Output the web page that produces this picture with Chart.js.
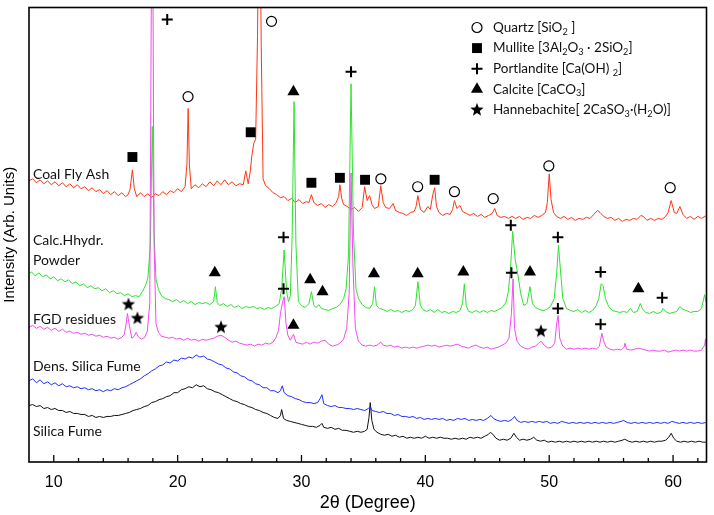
<!DOCTYPE html>
<html>
<head>
<meta charset="utf-8">
<script src="https://cdn.jsdelivr.net/npm/chart.js@4.4.0/dist/chart.umd.min.js"></script>
<style>
html,body{margin:0;padding:0;background:#fff;}
#wrap{width:714px;height:515px;position:relative;}
</style>
</head>
<body>
<div id="wrap"><canvas id="c"></canvas></div>
<script>
// ---------------- DATA (2θ in degrees, intensity in arbitrary units) ----------------
const coalFlyAsh = [[8.0,284],[8.3,286],[8.6,282],[8.9,285],[9.2,281],[9.5,284],[9.8,280],[10.1,283],[10.4,279],[10.7,282],[11.0,278],[11.3,281],[11.6,277],[11.9,280],[12.2,276],[12.5,278],[12.8,274],[13.1,277],[13.4,273],[13.7,275],[14.0,271],[14.3,274],[14.6,270],[14.9,273],[15.2,269],[15.5,272],[15.8,268],[16.0,270],[16.15,275],[16.35,295],[16.5,276],[16.7,268],[17.0,272],[17.3,268],[17.6,271],[17.9,267],[18.2,271],[18.5,269],[18.8,273],[19.1,270],[19.4,274],[19.7,272],[20.0,276],[20.3,273],[20.6,278],[20.75,300],[20.85,357],[20.95,300],[21.1,276],[21.4,280],[21.7,277],[22.0,281],[22.3,278],[22.6,283],[22.9,279],[23.2,284],[23.5,280],[23.8,285],[24.1,280],[24.4,283],[24.7,279],[25.0,281],[25.3,280],[25.5,294],[25.7,281],[25.85,292],[26.0,310],[26.15,322],[26.3,326],[26.45,430],[26.6,640],[26.75,420],[26.9,286],[27.1,279],[27.4,276],[27.7,272],[28.0,270],[28.3,267],[28.6,268],[28.9,264],[29.2,266],[29.5,262],[29.8,265],[30.1,261],[30.4,263],[30.6,262],[30.8,270],[31.0,262],[31.3,259],[31.6,261],[31.9,257],[32.2,260],[32.5,258],[32.8,262],[33.0,268],[33.1,280],[33.25,266],[33.4,260],[33.7,258],[34.0,255],[34.3,257],[34.6,253],[34.9,257],[35.1,278],[35.3,264],[35.5,269],[35.7,260],[35.9,256],[36.2,258],[36.4,279],[36.6,262],[36.8,257],[37.1,256],[37.4,261],[37.6,254],[37.9,252],[38.2,251],[38.5,249],[38.8,252],[39.1,253],[39.25,258],[39.4,269],[39.6,255],[39.9,252],[40.2,258],[40.4,255],[40.6,270],[40.75,277],[40.9,258],[41.1,252],[41.4,249],[41.7,251],[42.0,250],[42.2,255],[42.35,264],[42.55,256],[42.8,259],[43.0,253],[43.3,251],[43.6,249],[43.9,251],[44.2,248],[44.5,250],[44.8,247],[45.1,249],[45.4,251],[45.6,256],[45.8,249],[46.1,247],[46.4,248],[46.7,246],[47.0,248],[47.3,246],[47.6,248],[47.9,245],[48.2,247],[48.5,246],[48.8,249],[49.1,247],[49.4,249],[49.7,252],[49.85,262],[50.0,291],[50.15,265],[50.35,252],[50.6,248],[50.9,246],[51.2,248],[51.5,245],[51.8,247],[52.1,244],[52.4,246],[52.7,245],[53.0,247],[53.3,246],[53.6,250],[53.9,254],[54.1,252],[54.4,248],[54.7,246],[55.0,247],[55.3,244],[55.6,246],[55.9,243],[56.2,245],[56.5,244],[56.8,246],[57.1,245],[57.4,249],[57.6,248],[57.9,244],[58.2,246],[58.5,244],[58.8,246],[59.1,245],[59.4,248],[59.6,252],[59.85,264],[60.1,252],[60.3,251],[60.55,258],[60.8,250],[61.1,246],[61.4,248],[61.7,245],[62.0,248],[62.3,246],[62.7,249]];

const calcHydrPowder = [[8.0,190],[8.2,192],[8.5,188],[8.8,191],[9.1,187],[9.4,189],[9.7,185],[10.0,187],[10.3,183],[10.6,185],[10.9,182],[11.2,184],[11.5,180],[11.8,182],[12.1,178],[12.4,180],[12.7,176],[13.0,178],[13.3,175],[13.6,176],[13.9,173],[14.2,175],[14.5,171],[14.8,173],[15.1,170],[15.4,171],[15.7,168],[16.0,170],[16.3,167],[16.6,168],[16.9,167],[17.15,172],[17.4,178],[17.6,186],[17.8,220],[17.95,339],[18.1,230],[18.25,185],[18.45,174],[18.7,168],[19.0,165],[19.3,164],[19.6,162],[19.9,164],[20.2,161],[20.5,163],[20.8,160],[21.1,162],[21.4,159],[21.7,161],[22.0,160],[22.3,161],[22.6,159],[22.9,162],[23.05,177],[23.2,161],[23.4,158],[23.7,160],[24.0,157],[24.3,159],[24.6,156],[24.9,158],[25.2,155],[25.5,157],[25.8,156],[26.1,157],[26.4,155],[26.7,156],[27.0,154],[27.3,156],[27.6,155],[27.9,157],[28.2,160],[28.4,175],[28.6,214],[28.8,172],[28.95,162],[29.1,168],[29.25,230],[29.4,364],[29.55,220],[29.75,162],[30.0,158],[30.3,156],[30.6,160],[30.8,172],[31.0,158],[31.2,156],[31.4,159],[31.6,155],[31.9,154],[32.2,153],[32.5,155],[32.8,156],[33.1,159],[33.4,165],[33.6,175],[33.8,210],[34.0,382],[34.2,230],[34.4,175],[34.6,165],[34.9,159],[35.2,156],[35.5,155],[35.75,160],[35.9,177],[36.05,158],[36.3,155],[36.6,154],[36.9,152],[37.2,154],[37.5,152],[37.8,153],[38.1,151],[38.4,153],[38.7,152],[39.0,154],[39.2,158],[39.4,182],[39.6,158],[39.8,154],[40.1,152],[40.4,154],[40.7,151],[41.0,154],[41.3,151],[41.6,152],[41.9,150],[42.2,152],[42.5,151],[42.8,153],[43.0,160],[43.15,180],[43.3,158],[43.5,152],[43.8,151],[44.1,153],[44.4,151],[44.7,153],[45.0,151],[45.3,153],[45.6,152],[45.9,154],[46.2,156],[46.5,161],[46.7,172],[46.9,200],[47.05,233],[47.25,205],[47.5,187],[47.7,170],[47.95,158],[48.2,160],[48.45,177],[48.65,160],[48.9,156],[49.2,154],[49.5,153],[49.8,154],[50.1,157],[50.4,165],[50.6,190],[50.75,219],[50.9,195],[51.1,165],[51.4,155],[51.7,153],[52.0,152],[52.3,154],[52.6,151],[52.9,153],[53.2,151],[53.5,153],[53.8,158],[54.0,165],[54.2,180],[54.35,178],[54.55,165],[54.8,157],[55.1,153],[55.4,152],[55.7,151],[56.0,152],[56.3,151],[56.55,155],[56.8,151],[57.1,152],[57.35,160],[57.55,154],[57.8,151],[58.1,150],[58.4,152],[58.7,150],[59.0,151],[59.2,155],[59.4,152],[59.7,150],[60.0,151],[60.3,152],[60.55,157],[60.8,154],[61.1,153],[61.4,151],[61.7,152],[62.0,152],[62.3,155],[62.55,169],[62.7,160]];

const fgdResidues = [[8.0,136],[8.3,138],[8.6,135],[8.9,137],[9.2,134],[9.5,136],[9.8,133],[10.1,135],[10.4,132],[10.7,134],[11.0,131],[11.3,132],[11.6,130],[11.9,131],[12.2,129],[12.5,130],[12.8,128],[13.1,129],[13.4,127],[13.7,128],[14.0,126],[14.3,127],[14.6,125],[14.9,126],[15.2,124],[15.5,126],[15.7,129],[15.85,140],[15.95,150],[16.1,138],[16.3,125],[16.5,127],[16.65,131],[16.85,126],[17.1,124],[17.35,126],[17.55,132],[17.75,160],[17.95,640],[18.1,220],[18.25,140],[18.45,131],[18.7,127],[19.0,126],[19.3,125],[19.6,126],[19.9,124],[20.2,125],[20.5,123],[20.8,125],[21.1,123],[21.4,124],[21.7,122],[22.0,124],[22.3,123],[22.6,124],[22.9,125],[23.2,127],[23.5,128],[23.8,126],[24.1,123],[24.4,121],[24.7,122],[25.0,120],[25.3,119],[25.6,118],[25.9,119],[26.2,117],[26.5,119],[26.8,118],[27.1,120],[27.4,119],[27.7,121],[27.95,126],[28.15,133],[28.3,150],[28.45,160],[28.6,167],[28.75,140],[28.9,128],[29.1,123],[29.35,129],[29.55,121],[29.8,120],[30.1,119],[30.4,121],[30.7,119],[31.0,121],[31.3,120],[31.6,122],[31.9,123],[32.2,119],[32.5,117],[32.8,118],[33.1,120],[33.4,124],[33.65,135],[33.85,170],[34.0,292],[34.15,200],[34.35,135],[34.6,122],[34.9,118],[35.2,117],[35.5,118],[35.8,117],[36.1,118],[36.4,121],[36.6,118],[36.9,117],[37.2,118],[37.5,116],[37.8,117],[38.1,115],[38.4,116],[38.7,115],[39.0,116],[39.3,115],[39.6,116],[39.9,117],[40.2,118],[40.5,117],[40.8,118],[41.1,116],[41.4,117],[41.7,118],[42.0,117],[42.3,118],[42.6,119],[42.9,117],[43.2,116],[43.5,115],[43.8,117],[44.1,118],[44.4,116],[44.7,115],[45.0,116],[45.3,114],[45.6,115],[45.9,116],[46.2,118],[46.5,120],[46.75,125],[46.95,150],[47.08,185],[47.2,135],[47.4,122],[47.7,117],[48.0,115],[48.3,114],[48.6,116],[48.9,117],[49.15,120],[49.35,122],[49.6,118],[49.9,115],[50.2,116],[50.45,120],[50.6,140],[50.72,148],[50.85,125],[51.1,117],[51.4,114],[51.7,115],[52.0,114],[52.3,115],[52.6,114],[52.9,115],[53.2,114],[53.5,115],[53.8,114],[54.05,117],[54.25,130],[54.4,122],[54.6,116],[54.9,114],[55.2,113],[55.5,114],[55.8,113],[56.05,116],[56.12,120],[56.25,114],[56.6,113],[56.9,114],[57.2,115],[57.5,114],[57.8,113],[58.1,112],[58.4,113],[58.7,112],[59.0,112],[59.3,113],[59.6,111],[59.9,112],[60.2,113],[60.5,112],[60.8,113],[61.1,112],[61.4,113],[61.7,112],[62.0,112],[62.3,113],[62.55,118],[62.62,124],[62.7,113]];

const densSilicaFume = [[8.0,82],[8.3,84],[8.6,80],[8.9,83],[9.2,79],[9.5,81],[9.8,78],[10.1,80],[10.4,77],[10.7,79],[11.0,76],[11.3,77],[11.6,75],[11.9,76],[12.2,74],[12.5,75],[12.8,73],[13.1,74],[13.4,72],[13.7,73],[14.0,71],[14.3,73],[14.6,72],[14.9,74],[15.2,73],[15.5,75],[15.8,76],[16.1,78],[16.4,80],[16.7,82],[17.0,84],[17.3,87],[17.6,89],[17.9,92],[18.2,94],[18.5,97],[18.8,98],[19.1,101],[19.4,100],[19.7,103],[20.0,102],[20.3,105],[20.6,104],[20.9,106],[21.2,105],[21.5,108],[21.8,106],[22.1,107],[22.4,104],[22.7,103],[23.0,101],[23.3,99],[23.6,98],[23.9,95],[24.2,94],[24.5,91],[24.8,90],[25.1,87],[25.4,86],[25.7,83],[26.0,82],[26.3,79],[26.6,78],[26.9,75],[27.2,75],[27.5,72],[27.8,72],[28.1,70],[28.3,72],[28.45,77],[28.6,70],[28.9,67],[29.2,66],[29.5,64],[29.8,63],[30.1,61],[30.4,60],[30.7,60],[31.0,59],[31.3,60],[31.5,64],[31.65,68],[31.8,59],[32.1,57],[32.4,56],[32.7,57],[33.0,55],[33.3,55],[33.6,54],[33.9,54],[34.2,53],[34.5,54],[34.8,53],[35.1,52],[35.4,54],[35.55,56],[35.7,52],[36.0,51],[36.3,50],[36.6,51],[36.9,49],[37.2,49],[37.5,47],[37.8,48],[38.1,46],[38.4,46],[38.7,45],[39.0,46],[39.3,44],[39.6,45],[39.9,43],[40.2,44],[40.5,43],[40.8,44],[41.1,43],[41.4,44],[41.7,42],[42.0,43],[42.3,42],[42.6,44],[42.9,43],[43.2,44],[43.5,42],[43.8,43],[44.1,42],[44.4,43],[44.7,42],[45.0,44],[45.3,47],[45.5,44],[45.8,42],[46.1,41],[46.4,42],[46.7,41],[47.0,43],[47.2,46],[47.4,42],[47.7,40],[48.0,41],[48.3,40],[48.6,41],[48.9,40],[49.2,41],[49.5,40],[49.8,41],[50.1,39],[50.4,40],[50.7,39],[51.0,41],[51.3,40],[51.6,39],[51.9,40],[52.2,39],[52.5,40],[52.8,39],[53.1,40],[53.4,39],[53.7,40],[54.0,39],[54.3,40],[54.6,39],[54.9,40],[55.2,39],[55.5,40],[55.8,41],[56.0,42],[56.3,40],[56.6,39],[56.9,40],[57.2,39],[57.5,40],[57.8,39],[58.1,40],[58.4,39],[58.7,40],[59.0,39],[59.3,40],[59.6,39],[59.9,41],[60.2,40],[60.5,39],[60.8,40],[61.1,39],[61.4,40],[61.7,39],[62.0,40],[62.3,39],[62.7,40]];

const silicaFume = [[8.0,57],[8.3,58],[8.6,56],[8.9,57],[9.2,54],[9.5,55],[9.8,53],[10.1,54],[10.4,52],[10.7,52],[11.0,50],[11.3,51],[11.6,49],[11.9,49],[12.2,48],[12.5,48],[12.8,46],[13.1,47],[13.4,45],[13.7,46],[14.0,45],[14.3,46],[14.6,46],[14.9,47],[15.2,47],[15.5,48],[15.8,49],[16.1,50],[16.4,52],[16.7,53],[17.0,54],[17.3,56],[17.6,57],[17.9,60],[18.2,61],[18.5,63],[18.8,64],[19.1,66],[19.4,67],[19.7,70],[20.0,70],[20.3,73],[20.6,74],[20.9,76],[21.2,75],[21.5,78],[21.8,76],[22.1,77],[22.4,74],[22.7,73],[23.0,71],[23.3,70],[23.6,68],[23.9,66],[24.2,64],[24.5,62],[24.8,61],[25.1,59],[25.4,58],[25.7,56],[26.0,55],[26.3,53],[26.6,52],[26.9,50],[27.2,49],[27.5,47],[27.8,45],[28.1,44],[28.3,47],[28.4,53],[28.55,44],[28.8,42],[29.1,41],[29.4,40],[29.7,39],[30.0,38],[30.3,37],[30.6,36],[30.9,36],[31.2,35],[31.5,37],[31.65,39],[31.8,35],[32.1,34],[32.4,35],[32.7,33],[33.0,34],[33.3,32],[33.6,32],[33.9,31],[34.2,30],[34.5,31],[34.8,30],[35.1,31],[35.3,33],[35.45,45],[35.55,60],[35.68,42],[35.85,33],[36.1,30],[36.4,28],[36.7,27],[37.0,28],[37.3,26],[37.6,27],[37.9,25],[38.2,26],[38.5,24],[38.8,25],[39.1,24],[39.4,25],[39.7,24],[40.0,26],[40.3,24],[40.6,25],[40.9,24],[41.2,25],[41.5,24],[41.8,24],[42.1,23],[42.4,24],[42.7,23],[43.0,24],[43.3,23],[43.6,25],[43.9,24],[44.2,25],[44.5,24],[44.8,26],[45.1,28],[45.25,30],[45.45,28],[45.7,24],[46.0,22],[46.3,23],[46.6,22],[46.9,24],[47.15,29],[47.35,25],[47.6,22],[47.9,23],[48.2,22],[48.5,23],[48.75,25],[49.0,22],[49.3,21],[49.6,22],[49.9,20],[50.2,21],[50.5,20],[50.8,21],[51.1,20],[51.4,21],[51.7,20],[52.0,21],[52.3,20],[52.6,21],[52.9,20],[53.2,21],[53.5,20],[53.8,21],[54.1,20],[54.4,21],[54.7,20],[55.0,21],[55.3,20],[55.6,21],[55.9,22],[56.1,23],[56.4,21],[56.7,20],[57.0,21],[57.3,20],[57.6,21],[57.9,20],[58.2,21],[58.5,20],[58.8,21],[59.1,21],[59.4,22],[59.65,25],[59.85,29],[60.05,24],[60.3,21],[60.6,20],[60.9,21],[61.2,20],[61.5,21],[61.8,20],[62.1,21],[62.4,20],[62.7,20]];

// phase markers [2θ, intensity]
const quartzMarks = [[27.58,445],[20.84,369],[36.41,286],[39.38,278],[42.35,273],[45.48,266],[49.97,299],[59.77,277]];
const mulliteMarks = [[16.35,308],[25.9,333],[30.8,282],[33.1,287],[35.13,285],[40.75,285]];
const portlanditeMarks = [[19.16,447],[34.0,394],[28.55,227],[28.55,175],[46.9,239],[46.95,191],[50.7,227],[50.7,155],[54.15,192],[54.15,139],[59.12,166]];
const calciteMarks = [[29.35,374],[23.0,191],[30.7,184],[31.7,172],[29.35,138],[35.85,190],[39.38,190],[43.07,192],[48.45,192],[57.2,175]];
const hannebachiteMarks = [[16.03,159],[16.75,145],[23.5,136],[49.33,132]];

// series labels [text, 2θ, intensity]
const seriesLabels = [["Coal Fly Ash",8.32,290],["Calc.Hhydr.",8.32,224],["Powder",8.32,204],["FGD residues",8.32,144],["Dens. Silica Fume",8.32,96],["Silica Fume",8.32,31]];

// legend entries (_n = subscript)
const legendLabels = ["Quartz [SiO_2 ]","Mullite [3Al_2O_3 · 2SiO_2]","Portlandite [Ca(OH) _2]","Calcite [CaCO_3]","Hannebachite[ 2CaSO_3·(H_2O)]"];

const xMin = 8, xMax = 62.7, yMin = 0, yMax = 459;

// --------------- helpers ----------------
const toXY = a => a.map(p => ({x:p[0], y:p[1]}));
const LABEL_FONT = "Lato, 'Open Sans', sans-serif";
const AXIS_FONT = "'Liberation Sans', Arial, sans-serif";

function makeStar(r){
  const c = document.createElement('canvas');
  const s = Math.ceil(2*r+2);
  c.width = s; c.height = s;
  const g = c.getContext('2d');
  g.fillStyle = '#000';
  g.beginPath();
  for (let i=0;i<10;i++){
    const rr = i%2===0 ? r : r*0.42;
    const a = -Math.PI/2 + i*Math.PI/5;
    const px = s/2 + rr*Math.cos(a), py = s/2 + rr*Math.sin(a);
    if (i===0) g.moveTo(px,py); else g.lineTo(px,py);
  }
  g.closePath(); g.fill();
  return c;
}
const starImg = makeStar(7);

const markerStyles = [
  {style:'circle', radius:5, fill:'rgba(0,0,0,0)', stroke:'#000', bw:1.2},
  {style:'rect', radius:7, fill:'#000', stroke:'#000', bw:0},
  {style:'cross', radius:5.5, fill:'#000', stroke:'#000', bw:2},
  {style:'triangle', radius:7, fill:'#000', stroke:'#000', bw:0},
  {style:starImg, radius:7, fill:'#000', stroke:'#000', bw:0}
];

function markerDataset(arr, m){
  return {type:'scatter', data: toXY(arr), showLine:false, pointStyle:m.style, pointRadius:m.radius,
    pointBackgroundColor:m.fill, pointBorderColor:m.stroke, pointBorderWidth:m.bw, pointHoverRadius:m.radius, clip:false};
}
function seriesDataset(arr, color){
  return {type:'scatter', data: toXY(arr), showLine:true, borderColor:color, backgroundColor:color, borderWidth:1, pointRadius:0, pointHoverRadius:0, tension:0};
}

function drawRich(ctx, str, x, y, size){
  const parts = str.split(/(_\d)/);
  let cx = x;
  for (const p of parts){
    if (!p) continue;
    if (p[0]==='_' && p.length===2){
      ctx.font = (size*0.68)+"px "+LABEL_FONT;
      ctx.fillText(p[1], cx, y + size*0.3);
      cx += ctx.measureText(p[1]).width;
    } else {
      ctx.font = size+"px "+LABEL_FONT;
      ctx.fillText(p, cx, y);
      cx += ctx.measureText(p).width;
    }
  }
}

const decorPlugin = {
  id:'decor',
  afterDraw(chart){
    const {ctx, chartArea:ca, scales:{x, y}} = chart;
    ctx.save();
    // frame
    ctx.strokeStyle = '#000'; ctx.lineWidth = 1.6;
    ctx.strokeRect(ca.left, ca.top, ca.right-ca.left, ca.bottom-ca.top);
    // inward ticks on bottom axis
    ctx.lineWidth = 1.3;
    x.ticks.forEach(t => {
      const px = x.getPixelForValue(t.value);
      if (px <= ca.left+1 || px >= ca.right-1) return;
      const len = (t.value % 10 === 0) ? 7 : 4;
      ctx.beginPath(); ctx.moveTo(px, ca.bottom); ctx.lineTo(px, ca.bottom-len); ctx.stroke();
    });
    // series labels
    ctx.fillStyle = '#111'; ctx.textBaseline = 'middle'; ctx.textAlign = 'left';
    ctx.font = "14px "+LABEL_FONT;
    seriesLabels.forEach(l => ctx.fillText(l[0], x.getPixelForValue(l[1]), y.getPixelForValue(l[2])));
    // legend
    const h = Chart.helpers;
    legendLabels.forEach((txt, i) => {
      const cy = ca.top + 20 + i*20.6;
      const sx = ca.left + 448;
      const m = markerStyles[i];
      ctx.fillStyle = m.fill; ctx.strokeStyle = m.stroke; ctx.lineWidth = m.bw;
      if (h && h.drawPoint) {
        h.drawPoint(ctx, {pointStyle:m.style, radius:m.radius, rotation:0, borderWidth:m.bw}, sx, cy);
      }
      ctx.fillStyle = '#111'; ctx.textBaseline = 'middle';
      drawRich(ctx, txt, ca.left + 464, cy, 13.5);
    });
    ctx.restore();
  }
};

const ctxEl = document.getElementById('c');
new Chart(ctxEl, {
  type:'scatter',
  data:{
    datasets:[
      markerDataset(quartzMarks, markerStyles[0]),
      markerDataset(mulliteMarks, markerStyles[1]),
      markerDataset(portlanditeMarks, markerStyles[2]),
      markerDataset(calciteMarks, markerStyles[3]),
      markerDataset(hannebachiteMarks, markerStyles[4]),
      seriesDataset(fgdResidues, '#f04cf0'),
      seriesDataset(calcHydrPowder, '#2ee22e'),
      seriesDataset(coalFlyAsh, '#ff3515'),
      seriesDataset(densSilicaFume, '#1f2fff'),
      seriesDataset(silicaFume, '#111111')
    ]
  },
  options:{
    responsive:true, maintainAspectRatio:false, animation:false,
    events:[],
    layout:{padding:{top:3, right:3, left:0, bottom:0}},
    plugins:{legend:{display:false}, tooltip:{enabled:false}},
    scales:{
      x:{type:'linear', position:'bottom', min:xMin, max:xMax,
        grid:{display:false}, border:{display:false},
        ticks:{stepSize:2, autoSkip:false, includeBounds:false, maxRotation:0, padding:3,
          color:'#000', font:{family:AXIS_FONT, size:16},
          callback:(v)=> (v % 10 === 0 ? String(v) : '')},
        title:{display:true, text:'2θ (Degree)', color:'#000', font:{family:AXIS_FONT, size:18}, padding:{top:0,bottom:1}},
        afterFit:(s)=>{ s.height = 53; }
      },
      y:{type:'linear', min:yMin, max:yMax,
        grid:{display:false}, border:{display:false},
        ticks:{display:false},
        title:{display:true, text:'Intensity (Arb. Units)', color:'#000', font:{family:AXIS_FONT, size:15}, padding:{top:1,bottom:0}},
        afterFit:(s)=>{ s.width = 29; }
      }
    }
  },
  plugins:[decorPlugin]
});
</script>
</body>
</html>
